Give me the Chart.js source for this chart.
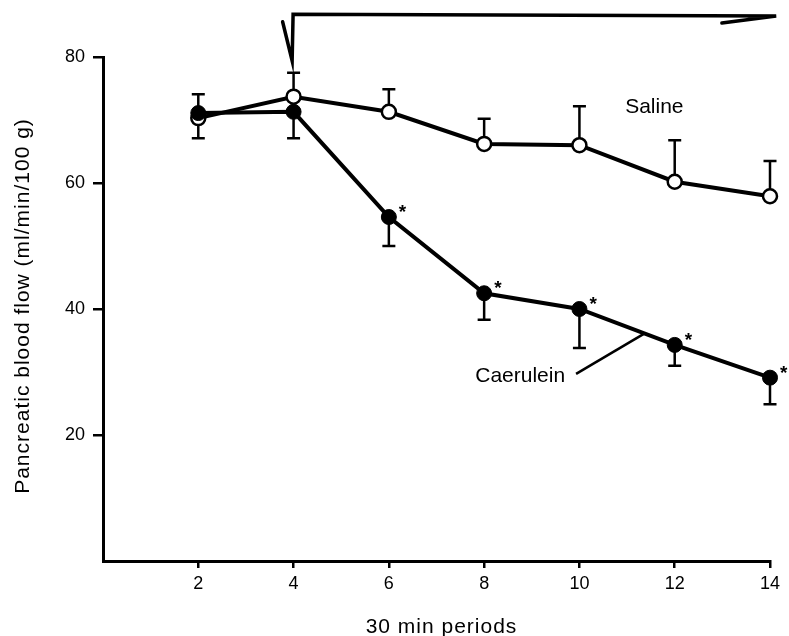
<!DOCTYPE html>
<html>
<head>
<meta charset="utf-8">
<script src="https://cdn.jsdelivr.net/npm/chart.js@4.4.1/dist/chart.umd.min.js"></script>
<style>
html, body { margin: 0; padding: 0; background: #fff; }
#wrap { width: 789px; height: 636px; }
</style>
</head>
<body>
<div id="wrap"><canvas id="chart" width="789" height="636"></canvas></div>
<script>
'use strict';

// periods (x) and flow values
var periods        = [2, 4, 6, 8, 10, 12, 14];
var salineFlow     = [70.3, 73.7, 71.3, 66.2, 66.0, 60.2, 57.9];
var salineUpper    = [74.1, 77.5, 74.9, 70.2, 72.2, 66.8, 63.5];
var caeruleinFlow  = [71.1, 71.3, 54.6, 42.5, 40.0, 34.3, 29.1];
var caeruleinLower = [67.1, 67.1, 50.0, 38.3, 33.8, 31.0, 24.9];
var caeruleinStars = [false, false, true, true, true, true, true];

var xTickLabels = ['2', '4', '6', '8', '10', '12', '14'];
var yTickLabels = ['20', '40', '60', '80'];

var INK = '#000';
var FONT = '"Liberation Sans", Arial, Helvetica, sans-serif';

function toPoints(xs, ys) {
    return xs.map(function (x, i) { return { x: x, y: ys[i] }; });
}

function hideZeroTick(ctx) {
    return ctx.tick && ctx.tick.value === 0 ? 'rgba(0,0,0,0)' : INK;
}

var errorBars = {
    id: 'errorBars',
    beforeDatasetsDraw: function (chart) {
        var c = chart.ctx, xs = chart.scales.x, ys = chart.scales.y;
        c.save();
        c.strokeStyle = INK;
        c.lineWidth = 2.5;
        function bar(x, from, to) {
            var px = xs.getPixelForValue(x);
            var p0 = ys.getPixelForValue(from);
            var p1 = ys.getPixelForValue(to);
            c.beginPath();
            c.moveTo(px, p0); c.lineTo(px, p1);
            c.moveTo(px - 6.5, p1); c.lineTo(px + 6.5, p1);
            c.stroke();
        }
        periods.forEach(function (x, i) {
            bar(x, salineFlow[i], salineUpper[i]);
            bar(x, caeruleinFlow[i], caeruleinLower[i]);
        });
        c.restore();
    }
};

var annotations = {
    id: 'annotations',
    afterDatasetsDraw: function (chart) {
        var c = chart.ctx, xs = chart.scales.x, ys = chart.scales.y;
        function px(v) { return xs.getPixelForValue(v); }
        function py(v) { return ys.getPixelForValue(v); }
        c.save();
        c.fillStyle = INK;
        c.strokeStyle = INK;

        // significance stars
        c.font = 'bold 19px ' + FONT;
        c.textAlign = 'left';
        c.textBaseline = 'middle';
        periods.forEach(function (x, i) {
            if (caeruleinStars[i]) {
                c.fillText('*', px(x) + 10, py(caeruleinFlow[i]) - 4);
            }
        });

        // series labels
        c.font = '21px ' + FONT;
        c.textBaseline = 'middle';
        c.textAlign = 'left';
        c.fillText('Saline', px(10.96), py(72.1));
        c.textAlign = 'right';
        c.fillText('Caerulein', px(9.7), py(29.4));

        c.lineWidth = 2.5;
        c.beginPath();
        c.moveTo(px(9.93), py(29.7));
        c.lineTo(px(11.36), py(36.1));
        c.stroke();

        // treatment arrow above the plot
        c.lineWidth = 3.5;
        c.lineCap = 'round';
        c.lineJoin = 'miter';
        c.beginPath();
        c.moveTo(px(3.77), py(85.6));
        c.lineTo(px(3.97), py(79.4));
        c.lineTo(px(3.99), py(86.8));
        c.lineTo(px(14.13), py(86.5));
        c.lineTo(px(12.99), py(85.4));
        c.stroke();

        c.restore();
    },
    afterDraw: function (chart) {
        var c = chart.ctx, area = chart.chartArea;
        c.save();
        c.fillStyle = INK;
        c.font = '21px ' + FONT;
        if ('letterSpacing' in c) { c.letterSpacing = '1px'; }
        c.textAlign = 'center';
        c.textBaseline = 'alphabetic';
        c.fillText('30 min periods', (area.left + area.right) / 2 + 5, 633);
        c.translate(29, (area.top + area.bottom) / 2 - 3);
        c.rotate(-Math.PI / 2);
        c.fillText('Pancreatic blood flow (ml/min/100 g)', 0, 0);
        c.restore();
    }
};

var ctx = document.getElementById('chart');

var myChart = new Chart(ctx, {
    type: 'line',
    data: {
        datasets: [
            {
                label: 'Caerulein',
                data: toPoints(periods, caeruleinFlow),
                borderColor: INK,
                borderWidth: 4,
                backgroundColor: INK,
                pointRadius: 7.5,
                pointBorderWidth: 1,
                pointBackgroundColor: INK,
                pointBorderColor: INK,
                tension: 0,
                clip: false
            },
            {
                label: 'Saline',
                data: toPoints(periods, salineFlow),
                borderColor: INK,
                borderWidth: 4,
                backgroundColor: '#fff',
                pointRadius: 7,
                pointBorderWidth: 2.5,
                pointBackgroundColor: '#fff',
                pointBorderColor: INK,
                tension: 0,
                clip: false
            }
        ]
    },
    options: {
        responsive: false,
        animation: false,
        devicePixelRatio: 1,
        layout: {
            padding: { top: 57, right: 19, left: 0, bottom: 0 }
        },
        plugins: {
            legend: { display: false },
            title: { display: false },
            tooltip: { enabled: false }
        },
        scales: {
            x: {
                type: 'linear',
                min: 0,
                max: 14,
                afterBuildTicks: function (scale) {
                    scale.ticks = [0].concat(xTickLabels.map(Number)).map(function (v) { return { value: v }; });
                },
                afterFit: function (scale) { scale.height = 75; },
                ticks: {
                    autoSkip: false,
                    color: INK,
                    font: { family: FONT, size: 18 },
                    padding: 5,
                    maxRotation: 0,
                    callback: function (v) { return v === 0 ? '' : String(v); }
                },
                grid: {
                    drawOnChartArea: false,
                    tickLength: 7,
                    lineWidth: 2.5,
                    color: hideZeroTick,
                    tickColor: hideZeroTick
                },
                border: { display: true, color: INK, width: 3 }
            },
            y: {
                min: 0,
                max: 80,
                afterBuildTicks: function (scale) {
                    scale.ticks = [0].concat(yTickLabels.map(Number)).map(function (v) { return { value: v }; });
                },
                afterFit: function (scale) { scale.width = 103; },
                ticks: {
                    autoSkip: false,
                    color: INK,
                    font: { family: FONT, size: 18 },
                    padding: 8,
                    callback: function (v) { return v === 0 ? '' : String(v); }
                },
                grid: {
                    drawOnChartArea: false,
                    tickLength: 10,
                    lineWidth: 2.5,
                    color: hideZeroTick,
                    tickColor: hideZeroTick
                },
                border: { display: true, color: INK, width: 3 }
            }
        }
    },
    plugins: [errorBars, annotations]
});
</script>
</body>
</html>
